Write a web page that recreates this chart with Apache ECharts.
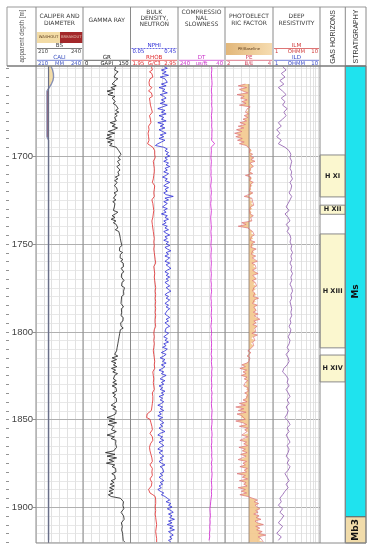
<!DOCTYPE html>
<html><head><meta charset="utf-8">
<script src="https://cdn.jsdelivr.net/npm/echarts@6/dist/echarts.min.js"></script>
<style>html,body{margin:0;padding:0;background:#fff}#c{width:372px;height:550px}</style>
</head><body><div id="c"></div><script>
// ---------------- DATA ----------------
const TOP_DEPTH = 1648.7, BOTTOM_DEPTH = 1920.5;
const depthLabels = [1700, 1750, 1800, 1850, 1900];
const depthTickStep = 5;

// Gamma ray (GAPI), 1 m step from 1649
const grStart = 1649, grStep = 1;
const gr = [
103,109,100,111,104,106,98,110,102,107,
92,105,88,100,76,95,79,101,92,97,
102,95,104,99,111,103,113,101,108,100,
95,105,86,102,92,109,97,80,100,76,
90,74,97,78,92,84,105,109,113,118,
120,115,111,118,109,114,116,107,113,117,
110,104,114,102,110,100,108,104,99,106,
102,109,98,105,101,96,104,94,101,106,
99,104,96,110,102,92,101,89,104,96,
105,99,110,102,113,107,116,110,118,113,
120,114,123,116,122,115,125,118,124,117,
126,119,127,121,128,120,125,129,122,128,
121,127,130,123,129,122,131,125,128,123,
129,122,128,121,127,120,126,128,121,127,
122,128,120,127,121,126,119,125,120,127,
118,124,116,122,114,120,112,118,110,116,
108,114,106,112,100,110,92,106,90,104,
96,107,90,103,94,109,100,106,96,105,
94,107,92,104,98,106,93,103,96,105,
101,106,97,89,104,94,105,99,103,92,
76,100,82,106,79,97,101,90,105,94,
76,99,89,104,98,103,100,106,101,97,
71,101,76,106,82,97,74,100,92,103,
97,104,91,100,94,102,89,98,86,99,
84,97,82,95,80,89,118,124,128,123,
126,121,129,124,120,125,128,122,130,125,
121,127,124,129,122,128,125,130,126,131,
127,132];

// Bulk density (G/C3), 1 m step from 1649
const rhobStart = 1649, rhobStep = 1;
const rhob = [
2.39,2.36,2.41,2.35,2.40,2.37,2.42,2.36,2.39,2.34,
2.38,2.35,2.40,2.36,2.33,2.39,2.37,2.41,2.35,2.38,
2.36,2.40,2.37,2.34,2.39,2.36,2.41,2.38,2.35,2.39,
2.37,2.34,2.38,2.35,2.33,2.37,2.34,2.36,2.32,2.35,
2.33,2.36,2.34,2.37,2.31,2.32,2.42,2.45,2.46,2.44,
2.46,2.44,2.47,2.45,2.43,2.46,2.44,2.47,2.45,2.43,
2.45,2.42,2.44,2.46,2.43,2.45,2.41,2.44,2.46,2.43,
2.45,2.42,2.44,2.41,2.45,2.43,2.40,2.44,2.42,2.45,
2.43,2.40,2.44,2.41,2.43,2.39,2.42,2.44,2.40,2.43,
2.41,2.44,2.42,2.45,2.43,2.46,2.44,2.47,2.45,2.46,
2.44,2.47,2.45,2.46,2.44,2.47,2.45,2.48,2.46,2.45,
2.47,2.45,2.48,2.46,2.44,2.47,2.45,2.48,2.46,2.47,
2.45,2.48,2.46,2.44,2.47,2.45,2.48,2.46,2.47,2.45,
2.48,2.46,2.47,2.45,2.48,2.46,2.47,2.45,2.48,2.46,
2.47,2.45,2.48,2.46,2.47,2.44,2.47,2.45,2.48,2.46,
2.45,2.47,2.44,2.46,2.45,2.47,2.44,2.46,2.45,2.47,
2.44,2.46,2.43,2.46,2.44,2.42,2.45,2.43,2.46,2.44,
2.45,2.43,2.46,2.44,2.42,2.45,2.43,2.46,2.44,2.45,
2.43,2.46,2.44,2.42,2.45,2.43,2.41,2.44,2.42,2.40,
2.42,2.39,2.41,2.38,2.40,2.37,2.39,2.35,2.30,2.33,
2.29,2.36,2.32,2.38,2.35,2.40,2.37,2.41,2.38,2.36,
2.39,2.41,2.38,2.42,2.40,2.37,2.39,2.35,2.31,2.36,
2.33,2.38,2.36,2.40,2.37,2.41,2.38,2.36,2.39,2.41,
2.38,2.40,2.37,2.41,2.39,2.36,2.38,2.40,2.37,2.39,
2.36,2.33,2.31,2.36,2.42,2.47,2.49,2.48,2.50,2.48,
2.49,2.47,2.50,2.48,2.49,2.47,2.50,2.48,2.51,2.49,
2.48,2.50,2.47,2.49,2.51,2.48,2.50,2.49,2.48,2.50,
2.49,2.50];

// Neutron porosity (v/v), 1 m step from 1649
const nphiStart = 1649, nphiStep = 1;
const nphi = [
0.33,0.36,0.31,0.35,0.32,0.37,0.30,0.34,0.33,0.36,
0.31,0.35,0.29,0.34,0.32,0.36,0.30,0.33,0.35,0.31,
0.34,0.30,0.36,0.32,0.28,0.34,0.31,0.35,0.29,0.33,
0.31,0.35,0.28,0.33,0.30,0.34,0.29,0.32,0.35,0.30,
0.33,0.29,0.34,0.31,0.28,0.26,0.33,0.36,0.34,0.37,
0.35,0.38,0.34,0.36,0.33,0.37,0.35,0.38,0.34,0.36,
0.33,0.37,0.35,0.32,0.36,0.34,0.38,0.35,0.33,0.37,
0.34,0.36,0.33,0.35,0.41,0.34,0.37,0.33,0.36,0.34,
0.32,0.36,0.33,0.35,0.31,0.36,0.34,0.37,0.33,0.35,
0.32,0.36,0.34,0.37,0.33,0.35,0.38,0.34,0.36,0.33,
0.37,0.35,0.38,0.34,0.36,0.39,0.35,0.37,0.34,0.38,
0.36,0.34,0.38,0.35,0.37,0.39,0.36,0.34,0.37,0.35,
0.38,0.35,0.37,0.34,0.36,0.38,0.35,0.37,0.39,0.36,
0.34,0.37,0.35,0.38,0.36,0.34,0.37,0.35,0.38,0.36,
0.37,0.34,0.36,0.38,0.35,0.37,0.34,0.36,0.38,0.35,
0.36,0.34,0.37,0.35,0.33,0.36,0.34,0.37,0.33,0.35,
0.32,0.36,0.34,0.31,0.35,0.33,0.30,0.34,0.32,0.35,
0.31,0.34,0.32,0.29,0.33,0.31,0.35,0.32,0.30,0.34,
0.31,0.33,0.29,0.32,0.30,0.34,0.31,0.33,0.29,0.32,
0.30,0.33,0.31,0.28,0.32,0.30,0.33,0.29,0.31,0.28,
0.32,0.29,0.31,0.33,0.30,0.32,0.29,0.31,0.34,0.30,
0.28,0.32,0.30,0.33,0.29,0.31,0.33,0.30,0.28,0.32,
0.29,0.31,0.33,0.30,0.32,0.29,0.31,0.34,0.30,0.32,
0.31,0.33,0.30,0.32,0.29,0.31,0.33,0.30,0.32,0.29,
0.31,0.28,0.30,0.33,0.31,0.34,0.36,0.38,0.35,0.39,
0.37,0.40,0.36,0.39,0.41,0.37,0.40,0.38,0.42,0.37,
0.40,0.36,0.41,0.38,0.42,0.37,0.39,0.41,0.38,0.40,
0.37,0.39];

// Compressional slowness (us/ft), 2 m step from 1649
const dtStart = 1649, dtStep = 2;
const dt = [
97,96,98,97,96,95,97,98,96,97,
96,97,95,96,98,97,96,97,95,96,
96,97,84,99,98,99,100,98,99,100,
99,100,98,99,101,99,98,100,99,101,
100,98,99,101,100,99,98,100,99,98,
99,100,98,99,100,99,98,99,100,98,
99,100,98,99,97,99,100,98,99,97,
98,99,97,98,100,98,97,99,98,97,
98,97,99,96,98,97,95,97,96,98,
97,96,98,95,97,96,98,97,95,96,
97,95,96,98,96,95,97,96,98,97,
96,97,95,98,96,97,95,96,98,97,
96,98,97,99,101,102,104,103,102,104,
103,105,104,106,105,108];

// Photoelectric factor (B/E), 1 m step from 1659
const peStart = 1659, peStep = 1;
const peBaseline = 3.0;
const pe = [
2.85,2.55,2.90,2.60,2.75,2.95,2.50,2.80,2.65,2.92,
2.70,2.88,2.60,3.05,2.93,2.97,2.85,2.98,2.80,2.95,
2.75,2.90,2.62,2.85,2.55,2.78,2.48,2.70,2.40,2.65,
2.45,2.72,2.52,2.80,2.60,2.88,2.95,3.05,3.12,3.02,
3.15,3.05,3.20,3.08,3.25,3.04,3.12,3.18,3.06,3.10,
3.02,3.15,2.85,3.08,3.12,3.03,3.18,3.07,3.14,3.05,
3.10,3.02,3.16,3.08,2.80,3.12,3.04,3.15,3.09,3.20,
3.06,3.14,3.03,3.11,3.05,3.18,3.07,3.02,3.12,2.70,
2.88,2.55,2.95,3.05,3.15,3.08,3.22,3.10,3.18,3.05,
3.25,3.12,3.20,3.08,3.30,3.15,3.22,3.10,3.28,3.14,
3.20,3.35,3.12,3.25,3.18,3.30,3.15,3.24,3.38,3.16,
3.22,3.30,3.14,3.26,3.18,3.32,3.20,3.28,3.15,3.24,
3.32,3.18,3.40,3.22,3.28,3.15,3.35,3.20,3.26,3.30,
3.18,3.38,3.22,3.28,3.45,3.20,3.30,3.16,3.34,3.24,
3.20,3.28,3.12,3.35,3.18,3.10,3.25,3.15,3.08,3.20,
3.12,3.05,2.95,3.08,3.02,2.92,3.04,2.96,3.00,2.90,
2.70,2.85,2.62,2.90,2.75,2.88,2.68,2.92,2.80,2.95,
2.85,2.92,2.78,2.95,2.88,2.97,2.82,2.94,2.86,2.90,
2.75,2.92,2.60,2.85,2.45,2.78,2.55,2.88,2.50,2.70,
2.65,2.85,2.45,2.75,2.90,2.60,2.95,2.82,2.92,2.98,
2.70,2.95,2.88,2.62,2.90,2.78,2.94,2.58,2.85,2.72,
2.92,2.65,2.88,2.80,2.55,2.90,2.75,2.85,2.62,2.93,
2.80,2.90,2.50,2.85,2.72,2.94,2.60,2.88,2.78,2.92,
2.55,2.85,2.68,2.90,2.62,2.95,3.15,3.35,3.22,3.40,
3.25,3.30,3.45,3.28,3.38,3.20,3.42,3.30,3.50,3.25,
3.35,3.60,3.28,3.45,3.32,3.55,3.40,3.70,3.38,3.50,
3.42,3.60];

// Deep resistivity (OHMM), 2 m step from 1649
const resStart = 1649, resStep = 2;
const res = [
1.6,1.9,1.5,1.8,1.4,1.7,1.3,1.6,1.9,1.5,
1.8,1.6,2.0,1.7,1.9,1.6,1.3,1.5,1.2,1.4,
1.2,1.5,1.3,1.8,2.2,2.4,2.3,2.5,2.4,2.3,
2.5,2.4,2.6,2.3,2.5,2.4,2.2,2.5,2.3,2.1,
1.9,2.2,1.8,2.1,2.3,1.9,2.2,2.0,2.3,2.4,
2.3,2.5,2.4,2.6,2.4,2.5,2.3,2.5,2.4,2.6,
2.4,2.5,2.3,2.5,2.6,2.4,2.5,2.3,2.4,2.5,
2.4,2.5,2.3,2.4,2.2,2.4,2.3,2.1,2.3,2.2,
2.0,2.2,1.9,2.1,2.2,2.0,1.7,1.6,1.9,2.1,
2.0,2.2,1.9,2.1,2.3,2.0,2.2,1.9,2.1,2.0,
1.8,2.1,2.3,2.0,2.2,1.9,2.1,2.3,2.0,2.2,
2.1,1.9,2.2,2.0,2.3,2.1,1.8,2.0,2.2,1.9,
2.1,1.8,1.6,1.4,1.5,1.3,1.6,1.4,1.7,1.5,
1.3,1.6,1.4,1.2,1.5,1.3];

// Caliper (MM), 2 m step from 1649; bit size
const caliStart = 1649, caliStep = 2;
const bitSize = 218;
const cali = [
219.6,220.6,221.1,221.2,220.8,219.8,218.4,217,217,217,
217,217,217,217,217,217,217,217,217,217,
217,218,218,218,218,218,218,218,218,218,
218,218,218,218,218,218,218,218,218,218,
218,218,218,218,218,218,218,218,218,218,
218,218,218,218,218,218,218,218,218,218,
218,218,218,218,218,218,218,218,218,218,
218,218,218,218,218,218,218,218,218,218,
218,218,218,218,218,218,218,218,218,218,
218,218,218,218,218,218,218,218,218,218,
218,218,218,218,218,218,218,218,218,218,
218,218,218,218,218,218,218,218,218,218,
218,218,218,218,218,218,218,218,218,218,
218,218,218,218,218,218];

// Gas horizons
const gasNames = ['H XI', 'H XII', 'H XIII', 'H XIV'];
const gasTops = [1699.4, 1728.0, 1744.4, 1813.4];
const gasBases = [1723.3, 1733.2, 1809.3, 1828.7];

// Stratigraphy
const stratNames = ['Ms', 'Mb3'];
const stratTops = [1648.7, 1905.6];
const stratBases = [1905.6, 1920.5];

// Header scale labels
const caliScale = ['210', 'MM', '240'];
const bsScale = ['210', '', '240'];
const grScale = ['0', 'GAPI', '150'];
const nphiScale = ['0.05', '', '0.45'];
const rhobScale = ['1.95', 'G/C3', '2.95'];
const dtScale = ['240', 'us/ft', '40'];
const peScale = ['2', 'B/E', '4'];
const resScale = ['1', 'OHMM', '10'];
const resGridVals = [2, 3, 4, 5, 6, 7, 8, 9];
const trackDivisions = 6;

// ---------------- LAYOUT ----------------
const PT = 66, PB = 543, HT = 7;
const TR = {
  depth: [7, 36], cal: [36, 83], gr: [83, 130.5], den: [130.5, 178], dt: [178, 225],
  pe: [225, 273], res: [273, 320], gas: [320, 345.3], strat: [345.3, 366]
};
const ORDER = ['depth', 'cal', 'gr', 'den', 'dt', 'pe', 'res', 'gas', 'strat'];
const FONT = '"DejaVu Sans"';
const C = {
  gr: '#1a1a1a', rhob: '#e0282a', nphi: '#2b2bd6', dt: '#d435d4', pe: '#d9606e',
  peFill: '#f3c88d', res: '#9a6bb5', cali: '#8790b4', bs: '#6a6f88',
  wash: '#f3dca6', brk: '#a3282a', gas: '#fbf7cf', ms: '#1fe3ee', mb3: '#f1dcaa'
};
const GRIDC = '#d9d9d9';

const pairs = (arr, start, step) => arr.map((v, i) => [v, start + i * step]);
const grids = ORDER.map(k => ({ left: TR[k][0], top: PT, width: TR[k][1] - TR[k][0], height: PB - PT, show: false }));
const gi = k => ORDER.indexOf(k);
const hidAx = (g, min, max, extra) => Object.assign({ gridIndex: g, type: 'value', min, max, show: false }, extra || {});
const gridAx = g => ({
  gridIndex: g, type: 'value', min: 0, max: trackDivisions, interval: 1, show: true,
  axisLine: { show: false }, axisTick: { show: false }, axisLabel: { show: false },
  splitLine: { show: true, lineStyle: { color: GRIDC, width: 0.8 } }
});

const xAxes = [
  hidAx(gi('depth'), 0, 1),                 // 0
  hidAx(gi('cal'), 210, 240),               // 1
  hidAx(gi('gr'), 0, 150),                  // 2
  hidAx(gi('den'), 1.95, 2.95),             // 3 RHOB
  hidAx(gi('den'), 0.05, 0.45),             // 4 NPHI
  hidAx(gi('dt'), 40, 240, { inverse: true }), // 5
  hidAx(gi('pe'), 2, 4),                    // 6
  { gridIndex: gi('res'), type: 'log', logBase: 10, min: 1, max: 10, show: false }, // 7
  hidAx(gi('gas'), 0, 1),                   // 8
  hidAx(gi('strat'), 0, 1),                 // 9
  gridAx(gi('cal')), gridAx(gi('gr')), gridAx(gi('den')), gridAx(gi('dt')), gridAx(gi('pe')) // 10-14
];
const yAxes = ORDER.map((k, i) => ({ gridIndex: i, type: 'value', inverse: true, min: TOP_DEPTH, max: BOTTOM_DEPTH, show: false }));

const gridDepths = [];
for (let d = Math.ceil(TOP_DEPTH / depthTickStep) * depthTickStep; d <= BOTTOM_DEPTH; d += depthTickStep) gridDepths.push(d);

const series = [];
// dummy series so the grid axes get drawn
[10, 11, 12, 13, 14].forEach((xi, j) => series.push({ type: 'line', xAxisIndex: xi, yAxisIndex: gi(['cal','gr','den','dt','pe'][j]), data: [], silent: true }));

series.push({
  type: 'custom', xAxisIndex: 0, yAxisIndex: 0, z: 1, silent: true,
  data: gridDepths.map(d => [0, d]),
  renderItem: (p, api) => {
    const d = api.value(1);
    const y = Math.round(api.coord([0, d])[1]) + 0.5;
    const major = depthLabels.indexOf(d) >= 0;
    const ch = [
      { type: 'line', shape: { x1: TR.cal[0], y1: y, x2: TR.res[1], y2: y }, style: { stroke: major ? '#b0b0b0' : '#e2e2e2', lineWidth: major ? 1 : 0.8 } },
      { type: 'line', shape: { x1: 6, y1: y, x2: 9, y2: y }, style: { stroke: '#777', lineWidth: 0.8 } }
    ];
    if (major) {
      ch.push({ type: 'line', shape: { x1: 33, y1: y, x2: 36, y2: y }, style: { stroke: '#777', lineWidth: 0.8 } });
      ch.push({ type: 'text', x: 33, y: y, style: { text: String(d), fill: '#444', font: '9.5px "Liberation Sans"', align: 'right', verticalAlign: 'middle' } });
    }
    return { type: 'group', children: ch };
  }
});

series.push({
  type: 'custom', xAxisIndex: 7, yAxisIndex: gi('res'), z: 1, silent: true,
  data: resGridVals.map(v => [v, TOP_DEPTH]),
  renderItem: (p, api) => {
    const x = Math.round(api.coord([api.value(0), TOP_DEPTH])[0]) + 0.5;
    return { type: 'line', shape: { x1: x, y1: PT, x2: x, y2: PB }, style: { stroke: GRIDC, lineWidth: 0.8 } };
  }
});

const caliPts = pairs(cali, caliStart, caliStep);
function fillPoly(xIdx, yIdx, pts, base, pick, color, op) {
  return {
    type: 'custom', xAxisIndex: xIdx, yAxisIndex: yIdx, z: 2, silent: true,
    data: [[base, pts[0][1]]],
    renderItem: (p, api) => {
      const poly = pts.map(q => api.coord([pick(q[0], base), q[1]]));
      poly.push(api.coord([base, pts[pts.length - 1][1]]));
      poly.push(api.coord([base, pts[0][1]]));
      return { type: 'polygon', shape: { points: poly }, style: { fill: color, opacity: op } };
    }
  };
}
series.push(fillPoly(1, gi('cal'), caliPts, bitSize, (v, b) => Math.max(v, b), C.wash, 1));
series.push(fillPoly(1, gi('cal'), caliPts, bitSize, (v, b) => Math.min(v, b), C.brk, 1));
series.push({ type: 'line', xAxisIndex: 1, yAxisIndex: gi('cal'), z: 3, showSymbol: false, silent: true,
  data: caliPts, lineStyle: { color: C.cali, width: 1.4 } });
series.push({ type: 'line', xAxisIndex: 1, yAxisIndex: gi('cal'), z: 4, showSymbol: false, silent: true,
  data: [[bitSize, TOP_DEPTH], [bitSize, BOTTOM_DEPTH]], lineStyle: { color: C.bs, width: 1.2 } });

series.push({ type: 'line', xAxisIndex: 2, yAxisIndex: gi('gr'), z: 4, showSymbol: false, silent: true,
  data: pairs(gr, grStart, grStep), lineStyle: { color: C.gr, width: 0.8 } });
series.push({ type: 'line', xAxisIndex: 3, yAxisIndex: gi('den'), z: 4, showSymbol: false, silent: true,
  data: pairs(rhob, rhobStart, rhobStep), lineStyle: { color: C.rhob, width: 0.8 } });
series.push({ type: 'line', xAxisIndex: 4, yAxisIndex: gi('den'), z: 4, showSymbol: false, silent: true,
  data: pairs(nphi, nphiStart, nphiStep), lineStyle: { color: C.nphi, width: 0.8 } });
series.push({ type: 'line', xAxisIndex: 5, yAxisIndex: gi('dt'), z: 4, showSymbol: false, silent: true,
  data: pairs(dt, dtStart, dtStep), lineStyle: { color: C.dt, width: 0.9 } });
const pePts = pairs(pe, peStart, peStep);
series.push(fillPoly(6, gi('pe'), pePts, peBaseline, (v) => v, C.peFill, 0.9));
series.push({ type: 'line', xAxisIndex: 6, yAxisIndex: gi('pe'), z: 3, showSymbol: false, silent: true,
  data: [[peBaseline, peStart], [peBaseline, BOTTOM_DEPTH]], lineStyle: { color: '#8a7a70', width: 0.8 } });
series.push({ type: 'line', xAxisIndex: 6, yAxisIndex: gi('pe'), z: 4, showSymbol: false, silent: true,
  data: pePts, lineStyle: { color: C.pe, width: 0.6 } });
series.push({ type: 'line', xAxisIndex: 7, yAxisIndex: gi('res'), z: 4, showSymbol: false, silent: true,
  data: pairs(res, resStart, resStep), lineStyle: { color: C.res, width: 0.9 } });

series.push({
  type: 'custom', xAxisIndex: 8, yAxisIndex: gi('gas'), z: 3, silent: true,
  data: gasNames.map((n, i) => [0, gasTops[i], gasBases[i], i]),
  renderItem: (p, api) => {
    const a = api.coord([0, api.value(1)]), b = api.coord([1, api.value(2)]);
    const name = gasNames[api.value(3)];
    return { type: 'group', children: [
      { type: 'rect', shape: { x: a[0], y: a[1], width: b[0] - a[0], height: b[1] - a[1] }, style: { fill: C.gas, stroke: '#8a8a8a', lineWidth: 1 } },
      { type: 'text', x: (a[0] + b[0]) / 2, y: (a[1] + b[1]) / 2, style: { text: name, fill: '#222', font: 'bold 6.5px ' + FONT, align: 'center', verticalAlign: 'middle' } }
    ] };
  }
});
series.push({
  type: 'custom', xAxisIndex: 9, yAxisIndex: gi('strat'), z: 3, silent: true,
  data: stratNames.map((n, i) => [0, stratTops[i], stratBases[i], i]),
  renderItem: (p, api) => {
    const a = api.coord([0, api.value(1)]), b = api.coord([1, api.value(2)]);
    const i = api.value(3);
    return { type: 'group', children: [
      { type: 'rect', shape: { x: a[0], y: a[1], width: b[0] - a[0], height: b[1] - a[1] }, style: { fill: i === 0 ? C.ms : C.mb3, stroke: '#555', lineWidth: 0.8 } },
      { type: 'text', x: (a[0] + b[0]) / 2, y: (a[1] + b[1]) / 2, rotation: Math.PI / 2, style: { text: stratNames[i], fill: '#111', font: 'bold 9px ' + FONT, align: 'center', verticalAlign: 'middle' } }
    ] };
  }
});

// ---------------- HEADER (graphic) ----------------
const g = [];
const T = (x, y, t, o) => { o = o || {}; g.push({ type: 'text', x, y, rotation: o.r || 0, z: 50, silent: true,
  style: { text: t, fill: o.c || '#333', font: (o.w || 'normal') + ' ' + (o.s || 6) + 'px ' + (o.f || FONT), align: o.a || 'center', verticalAlign: 'middle' } }); };
const L = (x1, y1, x2, y2, c, w, dash) => g.push({ type: 'line', z: 49, silent: true, shape: { x1, y1, x2, y2 }, style: { stroke: c, lineWidth: w || 1, lineDash: dash || null } });
const R = (x, y, w, h, fill, stroke) => g.push({ type: 'rect', z: 48, silent: true, shape: { x, y, width: w, height: h }, style: { fill, stroke: stroke || null, lineWidth: 0.6 } });
const cx = k => (TR[k][0] + TR[k][1]) / 2;

function titles(k, lines, ys) { lines.forEach((t, i) => T(cx(k), ys[i], t, { s: 6, c: '#3a3a3a' })); }
titles('cal', ['CALIPER AND', 'DIAMETER'], [16, 23.5]);
titles('gr', ['GAMMA RAY'], [20]);
titles('den', ['BULK', 'DENSITY,', 'NEUTRON'], [12.3, 18.5, 24.8]);
titles('dt', ['COMPRESSIO', 'NAL', 'SLOWNESS'], [12.3, 18.5, 24.8]);
titles('pe', ['PHOTOELECT', 'RIC FACTOR'], [16, 23.5]);
titles('res', ['DEEP', 'RESISTIVITY'], [16, 23.5]);
T(cx('gas'), 37, 'GAS HORIZONS', { r: Math.PI / 2, s: 7, c: '#333', f: '"Liberation Sans"' });
T(cx('strat'), 36.5, 'STRATIGRAPHY', { r: Math.PI / 2, s: 7, c: '#333', f: '"Liberation Sans"' });
T(22, 36, 'apparent depth [m]', { r: Math.PI / 2, s: 6.3, c: '#555', f: '"Liberation Sans"' });

function legend(k, yName, name, scale, color, dash) {
  const l = TR[k][0], r = TR[k][1];
  T(cx(k), yName, name, { s: 5.6, c: color });
  L(l + 1, yName + 3, r - 1, yName + 3, color, 0.7, dash);
  T(l + 2, yName + 6.3, scale[0], { s: 5.3, c: color, a: 'left' });
  if (scale[1]) T(cx(k), yName + 6.3, scale[1], { s: 5.3, c: color });
  T(r - 2, yName + 6.3, scale[2], { s: 5.3, c: color, a: 'right' });
}
R(37, 32, 23, 11, C.wash); R(60, 32, 22.5, 11, C.brk);
T(48.5, 37.5, 'WASHOUT', { s: 3.8, c: '#5a3a1a' });
T(71.2, 37.5, 'BREAKOUT', { s: 3.8, c: '#e8c8b8' });
legend('cal', 45.5, 'BS', bsScale, '#444');
legend('cal', 57.3, 'CALI', caliScale, '#3a50c0');
legend('gr', 57.3, 'GR', grScale, '#222');
legend('den', 45.5, 'NPHI', nphiScale, '#2b2bd6', [2, 1]);
legend('den', 57.3, 'RHOB', rhobScale, '#e0282a');
legend('dt', 57.3, 'DT', dtScale, '#c92ec9');
g.push({ type: 'rect', z: 48, silent: true, shape: { x: 226, y: 43, width: 46, height: 12 },
  style: { fill: new echarts.graphic.LinearGradient(0, 0, 1, 0, [{ offset: 0, color: '#e2b77a' }, { offset: 1, color: '#f6dcb0' }]) } });
T(249, 49, 'PE/Baseline', { s: 3.8, c: '#5a3a1a' });
legend('pe', 57.3, 'PE', peScale, '#d0405a');
legend('res', 45.5, 'ILM', resScale, '#d03a3a');
legend('res', 57.3, 'ILD', resScale, '#3a4ac8');

L(TR.depth[0], HT, TR.strat[1], HT, '#999', 1);
L(TR.depth[0], HT, TR.depth[0], PT, '#999', 1);
ORDER.slice(1).forEach(k => L(TR[k][0], HT, TR[k][0], PB, '#8a8a8a', 1));
L(TR.strat[1], HT, TR.strat[1], PB, '#8a8a8a', 1);
L(TR.depth[0], PT, TR.strat[1], PT, '#7a7a7a', 1.6);
L(TR.cal[0], PB, TR.strat[1], PB, '#8a8a8a', 1);

const chart = echarts.init(document.getElementById('c'), null, { renderer: 'canvas', width: 372, height: 550 });
chart.setOption({
  animation: false, backgroundColor: '#fff',
  grid: grids, xAxis: xAxes, yAxis: yAxes, series, graphic: { elements: g }
});
</script></body></html>
